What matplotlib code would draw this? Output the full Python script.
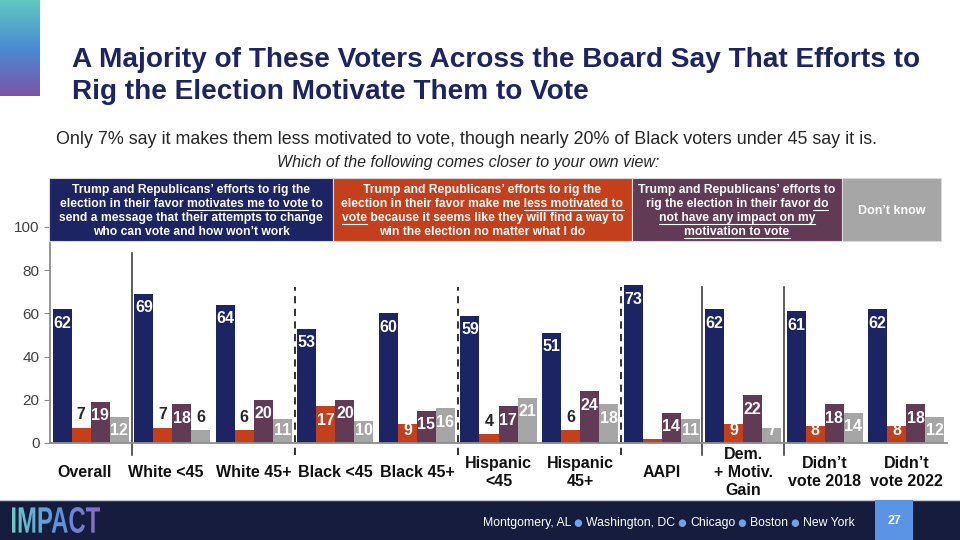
import numpy as np
import matplotlib
matplotlib.use('Agg')
import matplotlib.pyplot as plt
from matplotlib.patches import Rectangle, PathPatch
from matplotlib.lines import Line2D
from matplotlib.textpath import TextPath
from matplotlib.font_manager import FontProperties
from matplotlib.colors import LinearSegmentedColormap

plt.rcParams['font.family'] = ['Liberation Sans', 'DejaVu Sans']

categories = ["Overall", "White <45", "White 45+", "Black <45", "Black 45+",
              "Hispanic\n<45", "Hispanic\n45+", "AAPI", "Dem.\n+ Motiv.\nGain",
              "Didn’t\nvote 2018", "Didn’t\nvote 2022"]
motivates = [62, 69, 64, 53, 60, 59, 51, 73, 62, 61, 62]
less_motivated = [7, 7, 6, 17, 9, 4, 6, 2, 9, 8, 8]
no_impact = [19, 18, 20, 20, 15, 17, 24, 14, 22, 18, 18]
dont_know = [12, 6, 11, 10, 16, 21, 18, 11, 7, 14, 12]
yticks = [0, 20, 40, 60, 80, 100]

title_lines = ["A Majority of These Voters Across the Board Say That Efforts to",
               "Rig the Election Motivate Them to Vote"]
subtitle = "Only 7% say it makes them less motivated to vote, though nearly 20% of Black voters under 45 say it is."
question = "Which of the following comes closer to your own view:"

# header boxes: (line, underlined part of the line)
header_blue = [("Trump and Republicans’ efforts to rig the", None),
               ("election in their favor motivates me to vote to", "motivates me to vote"),
               ("send a message that their attempts to change", None),
               ("who can vote and how won’t work", None)]
header_orange = [("Trump and Republicans’ efforts to rig the", None),
                 ("election in their favor make me less motivated to", "less motivated to"),
                 ("vote because it seems like they will find a way to", "vote"),
                 ("win the election no matter what I do", None)]
header_purple = [("Trump and Republicans’ efforts to", None),
                 ("rig the election in their favor do", "do"),
                 ("not have any impact on my", "not have any impact on my"),
                 ("motivation to vote", "motivation to vote")]
header_gray = [("Don’t know", None)]

cities = ["Montgomery, AL", "Washington, DC", "Chicago", "Boston", "New York"]
page = "27"

W, H = 960, 540
def fx(px):
    return px / W
def fy(py):
    return 1 - py / H

fig = plt.figure(figsize=(9.6, 5.4), dpi=100)
r = fig.canvas.get_renderer()

navy = '#1c2463'
colors = [navy, '#c4401d', '#613a56', '#a6a6a6']

# ---- main chart
ax = fig.add_axes([fx(50), fy(443), fx(947) - fx(50), (443 - 227) / H])
series = [motivates, less_motivated, no_impact, dont_know]
bw = 0.233
x = np.arange(len(categories))
for k, (vals, c) in enumerate(zip(series, colors)):
    xs = x + (k - 1.5) * bw
    ax.bar(xs, vals, width=bw, color=c, zorder=2)
    lim = 8 if k == 1 else 7
    for xi, v in zip(xs, vals):
        if v < 3:
            continue
        if v >= lim:
            ax.text(xi, max(v - 6.5, 6), str(v), ha='center', va='center', color='white',
                    fontsize=11.5, fontweight='bold', zorder=3)
        else:
            ax.text(xi, v + 6, str(v), ha='center', va='center', color='#262626',
                    fontsize=11.5, fontweight='bold', zorder=3)

ax.plot([0.5, 0.5], [-5.5, 88], color='#404040', lw=1.2, clip_on=False, zorder=1)
for d in [7.5, 8.5]:
    ax.plot([d, d], [-5.5, 72], color='#404040', lw=1.2, clip_on=False, zorder=1)
for d in [2.5, 4.5, 6.5]:
    ax.plot([d, d], [-5.5, 72], color='#222222', lw=1.3, ls=(0, (4, 3)), clip_on=False, zorder=1)

for i, cat in enumerate(categories):
    ax.text(i - (0.08 if i < 2 else 0), -13.5, cat, ha='center', va='center', fontsize=11.5,
            fontweight='bold', color='#111111', linespacing=1.25, clip_on=False)

ax.set_xlim(-0.5, 10.5)
ax.set_ylim(0, 100)
ax.set_xticks([])
ax.set_yticks(yticks)
ax.tick_params(axis='y', labelsize=11, labelcolor='#404040', color='#8c8c8c', length=4)
for s in ['top', 'right']:
    ax.spines[s].set_visible(False)
for s in ['left', 'bottom']:
    ax.spines[s].set_color('#8c8c8c')
    ax.spines[s].set_linewidth(1.3)

# ---- titles
fig.text(fx(72), fy(60), title_lines[0], fontsize=20.2, fontweight='bold', color=navy, va='center')
fig.text(fx(72), fy(92), title_lines[1], fontsize=20.2, fontweight='bold', color=navy, va='center')
fig.text(fx(467), fy(140), subtitle, fontsize=12.9, color='#262626', ha='center', va='center')
fig.text(fx(468), fy(162), question, fontsize=11.5, style='italic', color='#262626', ha='center', va='center')


def text_w(s, **kw):
    t = fig.text(0, 0, s + '|', **kw)
    t2 = fig.text(0, 0, '|', **kw)
    w = t.get_window_extent(r).width - t2.get_window_extent(r).width
    t.remove()
    t2.remove()
    return w


hkw = dict(fontsize=8.7, fontweight='bold', color='white')
boxes = [(49, 333, navy, header_blue), (333, 632, colors[1], header_orange),
         (632, 842, colors[2], header_purple), (842, 941, colors[3], header_gray)]
for x0, x1, c, lines in boxes:
    fig.add_artist(Rectangle((fx(x0), fy(241)), (x1 - x0) / W, 63 / H, transform=fig.transFigure,
                             facecolor=c, edgecolor='#d9d9d9', lw=0.8, zorder=2))
    xc = (x0 + x1) / 2
    n = len(lines)
    for j, (line, ul) in enumerate(lines):
        yc = 211 + (j - (n - 1) / 2) * 14
        kw = dict(hkw)
        if n == 1:
            kw['fontsize'] = 9
        fig.text(fx(xc), fy(yc), line, ha='center', va='center', zorder=3, **kw)
        if ul:
            i = line.index(ul)
            full = text_w(line, **kw)
            u0 = xc - full / 2 + text_w(line[:i], **kw)
            u1 = u0 + text_w(ul, **kw)
            fig.add_artist(Line2D([fx(u0), fx(u1)], [fy(yc + 6)] * 2, color='white', lw=0.8, zorder=3))

# ---- top left gradient strip
gcm = LinearSegmentedColormap.from_list('g', ['#62c8c0', '#4a8bd4', '#7b55a6'])
gax = fig.add_axes([0, fy(96), fx(40), 96 / H])
gax.imshow(np.linspace(0, 1, 256).reshape(-1, 1), cmap=gcm, aspect='auto')
gax.axis('off')

# ---- footer
fig.add_artist(Rectangle((0, 0), 1, 40 / H, transform=fig.transFigure, facecolor='#151c3e',
                         edgecolor='none', zorder=1))
fig.add_artist(Line2D([0, 1], [fy(499.5)] * 2, color='#c8ccd6', lw=1, zorder=1))
fig.add_artist(Rectangle((fx(875), 0), 38 / W, 40 / H, transform=fig.transFigure, facecolor='#5b94e4',
                         edgecolor='none', zorder=2))
fig.text(fx(894), fy(521), page, ha='center', va='center', color='white', fontsize=9, fontweight='bold', zorder=3)

fkw = dict(fontsize=8.8, color='white')
xp = 483
for j, city in enumerate(cities):
    fig.text(fx(xp), fy(523), city, va='center', ha='left', zorder=3, **fkw)
    xp += text_w(city, **fkw)
    if j < len(cities) - 1:
        fig.text(fx(xp), fy(523), " ● ", va='center', ha='left', zorder=3,
                 fontsize=7, color='#6fa3e8', family=['DejaVu Sans'])
        xp += text_w(" ● ", fontsize=7, family=['DejaVu Sans'])

# IMPACT logo as gradient clipped by text
tp = TextPath((0, 0), "IMPACT", size=1, prop=FontProperties(family=['Liberation Sans'], weight='bold'))
bb = tp.get_extents()
lax = fig.add_axes([fx(12), fy(533), fx(100) - fx(12), 26 / H])
lax.set_zorder(5)
lax.set_xlim(bb.x0, bb.x1)
lax.set_ylim(bb.y0, bb.y1)
lcm = LinearSegmentedColormap.from_list('l', ['#6cc9c4', '#5b95dc', '#8a6cc4'])
im = lax.imshow(np.linspace(0, 1, 256).reshape(1, -1), cmap=lcm, aspect='auto',
                extent=[bb.x0, bb.x1, bb.y0, bb.y1])
patch = PathPatch(tp, transform=lax.transData, facecolor='none', edgecolor='none')
lax.add_patch(patch)
im.set_clip_path(patch)
lax.axis('off')

fig.savefig('out.png', dpi=100)
